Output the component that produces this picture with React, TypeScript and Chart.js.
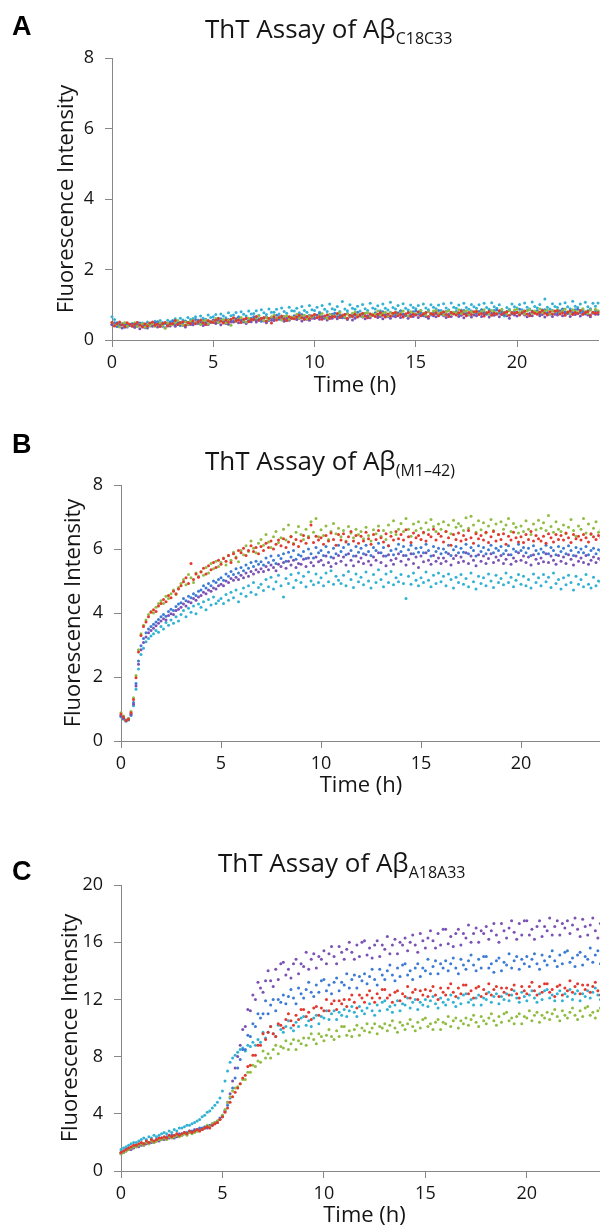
import React, { useEffect, useRef } from "react";
import { Chart, registerables } from "chart.js";

Chart.register(...registerables);

// ---------------- DATA ----------------
// Sampling times (h), one reading every 7.5 min
const TIME_H = [
  0, 0.125, 0.25, 0.375, 0.5, 0.625, 0.75, 0.875,
  1, 1.125, 1.25, 1.375, 1.5, 1.625, 1.75, 1.875,
  2, 2.125, 2.25, 2.375, 2.5, 2.625, 2.75, 2.875,
  3, 3.125, 3.25, 3.375, 3.5, 3.625, 3.75, 3.875,
  4, 4.125, 4.25, 4.375, 4.5, 4.625, 4.75, 4.875,
  5, 5.125, 5.25, 5.375, 5.5, 5.625, 5.75, 5.875,
  6, 6.125, 6.25, 6.375, 6.5, 6.625, 6.75, 6.875,
  7, 7.125, 7.25, 7.375, 7.5, 7.625, 7.75, 7.875,
  8, 8.125, 8.25, 8.375, 8.5, 8.625, 8.75, 8.875,
  9, 9.125, 9.25, 9.375, 9.5, 9.625, 9.75, 9.875,
  10, 10.125, 10.25, 10.375, 10.5, 10.625, 10.75, 10.875,
  11, 11.125, 11.25, 11.375, 11.5, 11.625, 11.75, 11.875,
  12, 12.125, 12.25, 12.375, 12.5, 12.625, 12.75, 12.875,
  13, 13.125, 13.25, 13.375, 13.5, 13.625, 13.75, 13.875,
  14, 14.125, 14.25, 14.375, 14.5, 14.625, 14.75, 14.875,
  15, 15.125, 15.25, 15.375, 15.5, 15.625, 15.75, 15.875,
  16, 16.125, 16.25, 16.375, 16.5, 16.625, 16.75, 16.875,
  17, 17.125, 17.25, 17.375, 17.5, 17.625, 17.75, 17.875,
  18, 18.125, 18.25, 18.375, 18.5, 18.625, 18.75, 18.875,
  19, 19.125, 19.25, 19.375, 19.5, 19.625, 19.75, 19.875,
  20, 20.125, 20.25, 20.375, 20.5, 20.625, 20.75, 20.875,
  21, 21.125, 21.25, 21.375, 21.5, 21.625, 21.75, 21.875,
  22, 22.125, 22.25, 22.375, 22.5, 22.625, 22.75, 22.875,
  23, 23.125, 23.25, 23.375, 23.5, 23.625, 23.75, 23.875,
  24,
];

const SERIES_NAMES = ["Replicate 1", "Replicate 2", "Replicate 3", "Replicate 4", "Replicate 5"];
const SERIES_COLORS = ["#e2382d", "#8fbd42", "#7b51b3", "#3b7bd4", "#31b2d4"];

const X_TICKS = [0, 5, 10, 15, 20];
const A_Y_TICKS = [0, 2, 4, 6, 8];
const B_Y_TICKS = [0, 2, 4, 6, 8];
const C_Y_TICKS = [0, 4, 8, 12, 16, 20];

const PANEL_LETTERS = ["A", "B", "C"];
const TITLE_MAIN = "ThT Assay of Aβ";
const TITLE_SUBS = ["C18C33", "(M1–42)", "A18A33"];
const X_TITLE = "Time (h)";
const Y_TITLE = "Fluorescence Intensity";

// ---- Panel A: Aβ C18C33 ----
const A_RED = [
  0.50,0.40,0.46,0.51,0.43,0.38,0.49,0.45,
  0.39,0.45,0.50,0.42,0.37,0.46,0.40,0.48,
  0.51,0.42,0.45,0.38,0.47,0.50,0.40,0.46,
  0.46,0.55,0.44,0.49,0.52,0.42,0.50,0.47,
  0.54,0.46,0.52,0.57,0.49,0.44,0.55,0.51,
  0.50,0.56,0.61,0.53,0.48,0.57,0.51,0.59,
  0.63,0.54,0.57,0.50,0.59,0.62,0.52,0.58,
  0.58,0.67,0.56,0.61,0.64,0.54,0.62,0.48,
  0.65,0.57,0.63,0.68,0.60,0.55,0.66,0.62,
  0.60,0.66,0.71,0.63,0.58,0.67,0.61,0.69,
  0.72,0.63,0.66,0.59,0.68,0.71,0.61,0.67,
  0.66,0.75,0.64,0.69,0.72,0.62,0.70,0.67,
  0.73,0.65,0.71,0.76,0.68,0.63,0.74,0.70,
  0.67,0.73,0.78,0.70,0.65,0.74,0.68,0.76,
  0.78,0.69,0.72,0.65,0.74,0.77,0.67,0.73,
  0.71,0.80,0.69,0.74,0.77,0.67,0.75,0.72,
  0.77,0.69,0.75,0.80,0.72,0.67,0.78,0.74,
  0.71,0.77,0.82,0.74,0.69,0.78,0.72,0.80,
  0.81,0.72,0.75,0.68,0.77,0.80,0.70,0.76,
  0.74,0.83,0.72,0.77,0.80,0.70,0.78,0.75,
  0.79,0.71,0.77,0.82,0.74,0.69,0.80,0.76,
  0.73,0.79,0.84,0.76,0.71,0.80,0.74,0.82,
  0.83,0.74,0.77,0.70,0.79,0.82,0.72,0.78,
  0.75,0.84,0.73,0.78,0.81,0.71,0.79,0.76,
  0.78,
];
const A_GREEN = [
  0.50,0.41,0.44,0.37,0.46,0.49,0.39,0.45,
  0.40,0.49,0.38,0.43,0.46,0.36,0.44,0.41,
  0.47,0.39,0.45,0.50,0.42,0.33,0.48,0.44,
  0.44,0.50,0.55,0.47,0.42,0.51,0.45,0.53,
  0.57,0.48,0.51,0.44,0.53,0.56,0.46,0.52,
  0.52,0.61,0.50,0.55,0.58,0.48,0.56,0.42,
  0.61,0.53,0.59,0.64,0.56,0.51,0.62,0.58,
  0.57,0.63,0.68,0.60,0.55,0.64,0.58,0.66,
  0.70,0.61,0.64,0.57,0.66,0.69,0.59,0.65,
  0.64,0.73,0.62,0.67,0.70,0.60,0.68,0.65,
  0.72,0.64,0.70,0.75,0.67,0.62,0.73,0.69,
  0.67,0.73,0.78,0.70,0.65,0.74,0.68,0.76,
  0.79,0.70,0.73,0.66,0.75,0.78,0.68,0.74,
  0.73,0.82,0.71,0.76,0.79,0.69,0.77,0.74,
  0.79,0.71,0.77,0.82,0.74,0.69,0.80,0.76,
  0.73,0.79,0.84,0.76,0.71,0.80,0.74,0.82,
  0.84,0.75,0.78,0.71,0.80,0.83,0.73,0.79,
  0.77,0.86,0.75,0.80,0.83,0.73,0.81,0.78,
  0.83,0.75,0.81,0.86,0.78,0.73,0.84,0.80,
  0.76,0.82,0.87,0.79,0.74,0.83,0.77,0.85,
  0.87,0.78,0.81,0.74,0.83,0.86,0.76,0.82,
  0.79,0.88,0.77,0.82,0.85,0.75,0.83,0.80,
  0.85,0.77,0.83,0.88,0.80,0.75,0.86,0.82,
  0.78,0.84,0.89,0.81,0.76,0.85,0.79,0.87,
  0.83,
];
const A_PURPLE = [
  0.43,0.42,0.47,0.39,0.34,0.43,0.37,0.45,
  0.45,0.36,0.39,0.32,0.41,0.44,0.34,0.40,
  0.39,0.48,0.37,0.42,0.45,0.35,0.43,0.40,
  0.47,0.39,0.45,0.50,0.42,0.37,0.48,0.44,
  0.43,0.49,0.54,0.46,0.41,0.50,0.44,0.52,
  0.56,0.47,0.50,0.43,0.52,0.55,0.45,0.51,
  0.51,0.60,0.49,0.54,0.57,0.47,0.55,0.52,
  0.59,0.51,0.57,0.62,0.54,0.49,0.60,0.56,
  0.55,0.61,0.66,0.58,0.53,0.62,0.56,0.64,
  0.67,0.58,0.61,0.54,0.63,0.66,0.56,0.62,
  0.61,0.70,0.59,0.64,0.67,0.57,0.65,0.62,
  0.68,0.60,0.66,0.71,0.63,0.58,0.69,0.57,
  0.62,0.68,0.73,0.65,0.60,0.69,0.63,0.71,
  0.73,0.64,0.67,0.60,0.69,0.72,0.62,0.68,
  0.66,0.75,0.64,0.69,0.72,0.62,0.70,0.67,
  0.72,0.64,0.70,0.75,0.67,0.62,0.73,0.69,
  0.66,0.72,0.77,0.69,0.64,0.73,0.67,0.75,
  0.76,0.67,0.70,0.63,0.72,0.75,0.65,0.71,
  0.69,0.78,0.67,0.72,0.75,0.65,0.73,0.70,
  0.74,0.66,0.72,0.77,0.69,0.62,0.75,0.71,
  0.68,0.74,0.79,0.71,0.66,0.75,0.69,0.77,
  0.78,0.69,0.72,0.65,0.74,0.77,0.67,0.73,
  0.71,0.80,0.69,0.74,0.77,0.67,0.75,0.72,
  0.76,0.68,0.74,0.79,0.71,0.66,0.77,0.73,
  0.73,
];
const A_BLUE = [
  0.45,0.49,0.38,0.43,0.46,0.36,0.44,0.41,
  0.45,0.37,0.43,0.48,0.40,0.35,0.46,0.42,
  0.41,0.47,0.52,0.44,0.39,0.48,0.42,0.50,
  0.54,0.45,0.48,0.41,0.50,0.53,0.43,0.49,
  0.49,0.58,0.47,0.52,0.55,0.45,0.53,0.50,
  0.57,0.49,0.55,0.60,0.52,0.47,0.58,0.54,
  0.53,0.59,0.64,0.56,0.51,0.60,0.54,0.62,
  0.66,0.57,0.60,0.53,0.62,0.65,0.55,0.61,
  0.61,0.70,0.59,0.64,0.67,0.57,0.65,0.62,
  0.69,0.61,0.67,0.72,0.64,0.59,0.70,0.66,
  0.64,0.70,0.75,0.67,0.62,0.71,0.65,0.73,
  0.76,0.67,0.70,0.63,0.72,0.75,0.65,0.71,
  0.70,0.79,0.68,0.73,0.76,0.66,0.74,0.71,
  0.77,0.69,0.75,0.80,0.72,0.67,0.78,0.74,
  0.71,0.77,0.82,0.74,0.69,0.78,0.72,0.80,
  0.82,0.73,0.76,0.69,0.78,0.81,0.71,0.77,
  0.75,0.84,0.73,0.78,0.81,0.71,0.79,0.76,
  0.81,0.73,0.79,0.84,0.76,0.71,0.82,0.78,
  0.75,0.81,0.86,0.78,0.73,0.82,0.76,0.84,
  0.85,0.76,0.79,0.72,0.81,0.84,0.74,0.80,
  0.78,0.87,0.76,0.81,0.84,0.74,0.82,0.79,
  0.83,0.75,0.81,0.86,0.78,0.73,0.84,0.80,
  0.77,0.83,0.88,0.80,0.75,0.84,0.78,0.86,
  0.87,0.78,0.81,0.74,0.83,0.86,0.76,0.82,
  0.81,
];
const A_CYAN = [
  0.66,0.58,0.50,0.46,0.43,0.48,0.45,0.42,
  0.47,0.44,0.50,0.45,0.48,0.43,0.51,0.46,
  0.49,0.53,0.47,0.55,0.50,0.46,0.56,0.52,
  0.55,0.60,0.52,0.62,0.57,0.54,0.64,0.58,
  0.61,0.66,0.57,0.68,0.62,0.59,0.71,0.64,
  0.66,0.72,0.62,0.74,0.68,0.63,0.77,0.69,
  0.71,0.78,0.66,0.80,0.73,0.68,0.82,0.74,
  0.75,0.83,0.70,0.86,0.77,0.72,0.88,0.79,
  0.79,0.87,0.74,0.91,0.81,0.76,0.93,0.83,
  0.82,0.90,0.77,0.95,0.84,0.79,0.98,0.86,
  0.84,0.93,0.79,0.98,0.87,0.81,1.02,0.89,
  0.86,0.95,0.81,1.09,0.88,0.83,1.00,0.90,
  0.87,0.96,0.82,1.01,0.89,0.84,1.04,0.91,
  0.88,0.97,0.83,1.02,0.90,0.85,1.07,0.92,
  0.88,0.98,0.83,1.03,0.90,0.85,0.99,0.92,
  0.89,0.98,0.84,1.02,0.91,0.86,1.00,0.93,
  0.89,0.99,0.84,1.03,0.91,0.86,1.05,0.93,
  0.90,0.99,0.85,1.04,0.92,0.87,1.01,0.94,
  0.90,1.00,0.85,1.04,0.92,0.87,1.06,0.94,
  0.90,1.00,0.85,0.68,0.92,0.87,1.02,0.94,
  0.91,1.01,0.86,1.05,0.93,0.88,1.08,0.95,
  0.91,1.01,0.86,1.16,0.93,0.88,1.03,0.95,
  0.92,1.02,0.87,1.06,0.94,0.89,1.10,0.96,
  0.92,1.02,0.87,1.07,0.94,0.89,1.04,0.96,
  1.05,
];

// ---- Panel B: Aβ(M1–42) ----
const B_RED = [
  0.84,0.75,0.64,0.68,0.88,1.30,1.98,2.78,
  3.30,3.58,3.72,3.88,4.02,4.10,4.05,4.22,
  4.30,4.42,4.35,4.55,4.48,4.68,4.60,4.75,
  4.85,4.98,5.10,4.92,5.55,5.05,5.22,5.12,
  5.28,5.40,5.22,5.48,5.35,5.58,5.42,5.65,
  5.52,5.70,5.62,5.80,5.58,5.85,5.72,5.95,
  5.88,6.02,5.80,5.95,6.10,5.92,6.05,5.85,
  6.08,5.95,6.18,6.05,6.25,6.00,6.15,6.28,
  6.10,6.32,6.05,6.22,6.38,6.15,6.30,6.08,
  6.25,6.42,6.18,6.35,6.75,6.20,6.40,6.28,
  6.35,6.15,6.42,6.25,6.50,6.30,6.12,6.45,
  6.28,6.48,6.22,6.38,6.55,6.25,6.42,6.18,
  6.40,6.25,6.52,6.32,6.15,6.45,6.30,6.58,
  6.35,6.22,6.48,6.10,6.40,6.28,6.55,6.32,
  6.45,6.28,6.60,6.38,6.20,6.50,6.35,6.42,
  6.30,6.52,6.25,6.45,6.38,6.62,6.28,6.48,
  6.40,6.22,6.55,6.35,6.12,6.45,6.30,6.50,
  6.25,6.42,6.30,6.58,6.35,6.18,6.48,6.32,
  6.42,6.28,6.52,6.20,6.38,6.55,6.25,6.45,
  6.30,6.48,6.15,6.40,6.28,6.52,6.35,6.22,
  6.38,6.20,6.45,6.30,6.55,6.25,6.42,6.32,
  6.25,6.40,6.18,6.48,6.35,6.22,6.45,6.30,
  6.42,6.28,6.50,6.35,6.20,6.45,6.32,6.40,
  6.28,6.45,6.35,6.22,6.48,6.38,6.30,6.42,
  6.35,
];
const B_GREEN = [
  0.88,0.78,0.66,0.70,0.92,1.35,2.05,2.85,
  3.35,3.62,3.78,3.95,4.05,4.00,4.18,4.30,
  4.38,4.30,4.52,4.45,4.60,4.72,4.58,4.80,
  4.92,5.05,4.88,5.20,5.10,4.95,5.25,5.15,
  5.30,5.18,5.42,5.25,5.55,5.38,5.62,5.45,
  5.58,5.72,5.50,5.80,5.65,5.90,5.75,5.60,
  5.95,5.82,6.10,5.92,6.25,6.02,5.88,6.18,
  6.30,6.12,6.45,6.22,6.05,6.38,6.55,6.20,
  6.35,6.62,6.28,6.75,6.40,6.18,6.52,6.70,
  6.45,6.30,6.62,6.40,6.85,6.52,6.95,6.38,
  6.60,6.42,6.72,6.30,6.55,6.80,6.48,6.65,
  6.38,6.58,6.25,6.70,6.50,6.35,6.62,6.45,
  6.55,6.32,6.68,6.42,6.25,6.60,6.48,6.72,
  6.40,6.58,6.30,6.75,6.52,6.88,6.45,6.62,
  6.80,6.55,6.95,6.62,6.40,6.78,6.58,6.85,
  6.65,6.50,6.82,6.60,6.92,6.70,6.55,6.78,
  6.62,6.85,6.55,6.75,6.48,6.90,6.68,6.80,
  6.72,6.58,6.98,6.65,7.02,6.75,6.52,6.88,
  6.60,6.82,6.50,6.72,6.92,6.58,6.78,6.45,
  6.85,6.62,6.75,6.95,6.55,6.80,6.68,6.50,
  6.72,6.55,6.88,6.62,6.45,6.78,6.60,6.90,
  6.65,6.82,6.58,7.05,6.70,6.52,6.85,6.62,
  6.55,6.75,6.48,6.68,6.92,6.58,6.40,6.72,
  6.62,6.95,6.50,6.78,6.45,6.65,6.85,6.52,
  6.60,
];
const B_PURPLE = [
  0.78,0.70,0.63,0.68,0.82,1.15,1.72,2.40,
  2.85,3.08,3.25,3.38,3.45,3.52,3.60,3.68,
  3.75,3.82,3.78,3.92,3.98,3.95,4.08,4.12,
  4.18,4.28,4.22,4.35,4.32,4.45,4.40,4.50,
  4.55,4.65,4.60,4.72,4.68,4.78,4.75,4.85,
  4.90,4.85,5.00,4.95,5.08,5.02,5.12,5.05,
  5.18,5.10,5.25,5.15,5.30,5.22,5.35,5.28,
  5.38,5.30,5.45,5.35,5.50,5.42,5.32,5.52,
  5.45,5.58,5.40,5.62,5.50,5.65,5.42,5.55,
  5.52,5.68,5.45,5.72,5.58,5.48,5.75,5.60,
  5.65,5.50,5.78,5.58,5.45,5.72,5.55,5.80,
  5.62,5.75,5.50,5.85,5.65,5.48,5.78,5.60,
  5.72,5.55,5.82,5.62,5.50,5.75,5.65,5.88,
  5.58,5.78,5.48,5.82,5.65,5.52,5.70,5.85,
  5.62,5.80,5.50,5.68,5.85,5.55,5.75,5.42,
  5.78,5.60,5.88,5.65,5.52,5.80,5.62,5.72,
  5.55,5.72,5.62,5.85,5.50,5.70,5.80,5.58,
  5.75,5.62,5.88,5.55,5.78,5.65,5.48,5.82,
  5.62,5.78,5.55,5.70,5.85,5.58,5.75,5.65,
  5.80,5.55,5.68,5.82,5.52,5.72,5.62,5.88,
  5.65,5.78,5.58,5.75,5.50,5.82,5.68,5.55,
  5.72,5.60,5.85,5.58,5.78,5.65,5.52,5.80,
  5.62,5.75,5.55,5.82,5.68,5.50,5.78,5.62,
  5.72,5.58,5.80,5.52,5.65,5.75,5.58,5.70,
  5.65,
];
const B_BLUE = [
  0.80,0.72,0.66,0.70,0.85,1.20,1.80,2.50,
  2.98,3.20,3.38,3.50,3.58,3.65,3.72,3.80,
  3.88,3.95,3.90,4.05,4.12,4.08,4.20,4.28,
  4.32,4.45,4.38,4.52,4.48,4.60,4.55,4.68,
  4.72,4.85,4.78,4.92,4.85,5.00,4.95,5.05,
  5.10,5.02,5.22,5.15,5.30,5.20,5.38,5.25,
  5.42,5.32,5.50,5.40,5.58,5.45,5.62,5.52,
  5.60,5.50,5.72,5.58,5.78,5.65,5.55,5.80,
  5.70,5.85,5.62,5.90,5.75,5.95,5.68,5.82,
  5.78,5.92,5.70,6.00,5.85,5.72,6.05,5.88,
  5.95,5.80,6.08,5.90,5.75,6.02,5.85,6.12,
  5.92,6.05,5.82,6.15,5.95,5.78,6.08,5.90,
  6.02,5.85,6.12,5.92,5.80,6.05,5.95,6.18,
  5.88,6.05,5.78,6.10,5.95,5.82,6.00,6.15,
  5.92,6.08,5.80,5.98,6.12,5.85,6.02,5.90,
  6.05,5.88,6.15,5.95,5.78,6.08,5.92,6.02,
  5.85,6.00,5.90,6.12,5.80,5.98,6.08,5.88,
  6.02,5.90,6.15,5.85,6.05,5.95,5.78,6.10,
  5.92,6.05,5.85,5.98,6.12,5.88,6.02,5.95,
  6.08,5.85,5.95,6.10,5.82,6.00,5.92,6.15,
  5.95,6.05,5.88,6.02,5.80,6.10,5.95,5.85,
  6.00,5.90,6.12,5.85,6.05,5.95,5.82,6.08,
  5.92,6.02,5.85,6.10,5.95,5.80,6.05,5.90,
  6.00,5.88,6.08,5.82,5.95,6.02,5.85,5.98,
  5.92,
];
const B_CYAN = [
  0.76,0.68,0.62,0.66,0.80,1.10,1.62,2.25,
  2.70,2.90,3.10,3.20,3.28,3.35,3.45,3.40,
  3.58,3.50,3.70,3.62,3.78,3.68,3.88,3.75,
  3.95,4.08,3.88,4.15,4.02,4.22,3.98,4.28,
  4.18,4.35,4.10,4.42,4.25,4.50,4.30,4.38,
  4.45,4.30,4.58,4.40,4.65,4.48,4.72,4.35,
  4.60,4.78,4.52,4.85,4.65,4.95,4.58,4.80,
  4.90,4.70,5.05,4.82,5.12,4.75,4.98,5.18,
  4.85,4.50,5.08,4.92,5.20,4.80,5.02,5.25,
  4.95,5.15,4.82,5.28,5.00,4.88,5.22,4.95,
  5.10,4.85,5.25,4.98,5.32,4.90,5.15,5.02,
  4.92,5.18,4.85,5.30,5.05,4.80,5.22,4.98,
  5.12,4.88,5.28,5.00,4.78,5.20,4.95,5.35,
  5.05,4.82,5.22,4.95,5.30,4.88,5.10,4.98,
  5.20,4.92,4.45,5.15,4.90,5.25,5.02,4.85,
  5.10,4.95,5.28,5.02,4.82,5.18,4.92,5.25,
  4.98,5.15,4.85,5.22,5.05,4.78,5.12,4.95,
  5.20,4.90,5.08,4.82,5.25,4.98,4.75,5.15,
  4.92,5.10,4.85,5.22,5.00,4.80,5.18,4.95,
  5.08,4.88,5.25,4.95,5.12,4.82,5.02,5.20,
  4.90,5.15,4.85,5.05,4.78,5.22,4.95,5.10,
  4.85,5.20,4.98,5.12,4.80,5.25,4.92,5.05,
  4.75,5.10,4.88,5.18,4.95,4.72,5.15,4.90,
  5.05,4.82,5.20,4.90,4.78,5.12,4.85,5.00,
  4.95,
];

// ---- Panel C: Aβ A18A33 ----
const C_RED = [
  1.3,1.4,1.5,1.6,1.7,1.8,1.8,1.9,
  2.0,1.9,2.1,2.0,2.2,2.1,2.2,2.3,
  2.3,2.4,2.3,2.5,2.4,2.5,2.6,2.5,
  2.6,2.7,2.6,2.8,2.7,2.8,2.9,2.8,
  2.9,3.0,3.1,3.0,3.2,3.3,3.4,3.6,
  3.8,4.1,4.4,4.8,5.2,5.5,5.8,6.1,
  6.5,6.7,7.3,7.4,8.1,8.1,8.8,8.8,
  9.6,9.2,9.7,10.1,9.6,9.4,10.3,10.2,
  10.0,10.6,11.0,10.5,10.2,10.9,10.6,11.3,
  11.3,10.8,11.1,10.6,11.4,11.5,10.9,11.4,
  11.2,12.0,11.2,11.7,11.9,11.3,11.9,11.7,
  12.0,11.5,12.0,12.3,11.8,11.4,12.3,12.1,
  11.8,12.3,12.6,12.1,11.8,12.4,12.1,12.7,
  12.7,12.1,12.3,11.8,12.5,12.6,11.9,12.4,
  12.2,12.9,12.1,12.5,12.7,12.0,12.6,12.3,
  12.7,12.2,12.6,12.9,12.3,12.0,12.8,12.5,
  12.3,12.8,13.1,12.5,12.2,12.8,12.4,13.0,
  13.0,12.4,12.6,12.1,12.8,12.9,12.2,12.7,
  12.4,13.1,12.3,12.7,12.9,12.2,12.8,12.5,
  12.8,12.3,12.7,13.0,12.4,12.1,12.9,12.6,
  12.4,12.9,13.2,12.6,12.3,12.9,12.5,13.1,
  13.1,12.5,12.7,12.2,12.9,13.0,12.3,12.8,
  12.6,13.3,12.5,12.9,13.1,12.4,13.0,12.7,
  13.0,12.5,12.9,13.2,12.6,12.3,13.1,12.8,
  12.8,
];
const C_GREEN = [
  1.2,1.3,1.4,1.5,1.6,1.7,1.7,1.8,
  1.9,1.8,2.0,1.9,2.1,2.0,2.1,2.2,
  2.2,2.3,2.2,2.4,2.3,2.4,2.5,2.4,
  2.5,2.6,2.5,2.7,2.6,2.7,2.8,2.8,
  2.9,3.0,3.2,3.1,3.3,3.4,3.5,3.6,
  3.9,4.3,4.8,5.2,5.6,5.8,5.9,6.1,
  6.4,6.4,6.9,6.9,7.4,7.3,7.7,7.6,
  8.4,7.9,8.2,7.9,8.5,8.8,8.2,8.7,
  8.6,9.1,8.5,8.9,9.2,8.5,9.1,8.9,
  9.3,8.8,9.3,9.6,9.2,8.9,9.6,9.4,
  9.1,9.5,9.9,9.4,9.2,9.8,9.4,10.1,
  10.1,9.5,9.8,9.4,9.9,10.2,9.5,10.0,
  9.8,10.3,9.7,10.0,10.3,9.6,10.1,10.0,
  10.3,9.8,10.2,10.5,10.0,9.7,10.4,10.2,
  9.9,10.3,10.6,10.1,9.8,10.4,10.0,10.6,
  10.7,10.1,10.3,9.9,10.4,10.6,9.9,10.4,
  10.3,10.8,10.1,10.5,10.7,10.0,10.5,10.3,
  10.7,10.2,10.6,10.9,10.4,10.1,10.8,10.5,
  10.3,10.7,11.0,10.5,10.2,10.8,10.4,11.0,
  11.1,10.5,10.7,10.3,10.8,11.0,10.3,10.8,
  10.7,11.2,10.5,10.9,11.1,10.4,10.9,10.7,
  11.1,10.6,11.0,11.3,10.8,10.5,11.2,10.9,
  10.7,11.1,11.4,10.9,10.6,11.2,10.8,11.4,
  11.5,10.9,11.1,10.7,11.2,11.4,10.7,11.2,
  11.2,
];
const C_PURPLE = [
  1.2,1.3,1.4,1.5,1.5,1.6,1.7,1.7,
  1.8,1.8,1.9,1.9,2.0,2.0,2.1,2.1,
  2.2,2.2,2.3,2.3,2.4,2.3,2.4,2.5,
  2.5,2.6,2.6,2.7,2.7,2.8,2.8,2.9,
  2.9,3.0,3.0,3.1,3.2,3.3,3.4,3.6,
  3.8,4.2,4.8,5.4,6.3,7.2,8.0,8.8,
  9.9,10.1,11.3,11.2,12.3,12.0,13.2,12.8,
  12.5,13.3,14.0,13.3,12.9,14.1,13.4,14.5,
  14.6,13.7,14.1,13.5,14.5,14.8,13.8,14.5,
  14.3,15.3,14.1,14.8,15.2,14.2,15.0,14.8,
  15.4,14.5,15.2,15.7,15.0,14.5,15.7,15.3,
  14.8,15.5,16.0,15.3,14.8,15.8,15.0,16.0,
  16.1,15.1,15.6,14.9,15.8,16.1,15.0,15.8,
  15.5,16.4,15.2,15.8,16.2,15.2,16.0,15.8,
  16.3,15.4,16.0,16.5,15.8,15.3,16.6,16.1,
  15.6,16.3,16.8,16.1,15.6,16.6,15.8,16.9,
  16.9,15.9,16.4,15.7,16.6,16.9,15.8,16.6,
  16.3,17.2,16.0,16.6,17.0,16.0,16.8,16.6,
  17.1,16.2,16.8,17.3,16.5,16.0,17.3,16.8,
  16.3,17.0,17.5,16.7,16.2,17.3,16.5,17.5,
  17.5,16.5,16.9,16.2,17.1,17.5,16.4,17.1,
  16.8,17.7,16.5,17.1,17.5,16.5,17.3,17.0,
  17.5,16.6,17.2,17.7,16.9,16.4,17.6,17.1,
  16.5,17.2,17.7,16.8,16.3,17.3,16.4,17.3,
  16.8,
];
const C_BLUE = [
  1.3,1.4,1.5,1.6,1.6,1.7,1.8,1.8,
  1.9,1.9,2.0,2.0,2.1,2.1,2.2,2.2,
  2.3,2.3,2.4,2.4,2.5,2.4,2.5,2.6,
  2.6,2.7,2.7,2.8,2.8,2.9,2.9,3.0,
  3.0,3.1,3.1,3.2,3.3,3.4,3.5,3.7,
  3.9,4.2,4.6,5.1,5.8,6.5,7.2,7.8,
  8.5,8.5,9.5,9.4,10.3,10.1,11.0,10.7,
  11.0,11.9,11.0,11.6,12.0,11.2,12.0,11.8,
  12.3,11.7,12.2,12.7,12.1,11.7,12.8,12.4,
  12.1,12.7,13.2,12.5,12.2,13.0,12.5,13.3,
  13.4,12.6,13.0,12.4,13.2,13.5,12.6,13.2,
  13.0,13.8,12.8,13.4,13.7,12.8,13.6,13.3,
  13.8,13.1,13.6,14.1,13.4,13.0,14.1,13.7,
  13.4,14.0,14.4,13.7,13.3,14.2,13.6,14.4,
  14.5,13.7,14.0,13.4,14.2,14.5,13.6,14.2,
  14.0,14.8,13.8,14.3,14.7,13.8,14.5,14.2,
  14.7,14.0,14.5,14.9,14.2,13.8,14.8,14.4,
  14.1,14.7,15.1,14.4,14.0,14.8,14.2,15.0,
  15.0,14.2,14.5,13.9,14.7,14.9,14.0,14.6,
  14.4,15.2,14.2,14.7,15.0,14.1,14.8,14.5,
  15.0,14.3,14.8,15.2,14.5,14.1,15.1,14.7,
  14.4,15.0,15.4,14.7,14.3,15.1,14.5,15.3,
  15.4,14.6,14.9,14.3,15.1,15.3,14.4,15.0,
  14.8,15.6,14.6,15.1,15.4,14.5,15.2,14.9,
  15.0,
];
const C_CYAN = [
  1.5,1.6,1.7,1.8,1.9,2.0,2.0,2.1,
  2.2,2.3,2.2,2.4,2.3,2.5,2.4,2.5,
  2.6,2.7,2.6,2.8,2.7,2.9,2.8,3.0,
  3.0,3.1,3.2,3.2,3.3,3.4,3.5,3.6,
  3.8,3.9,4.1,4.2,4.4,4.6,4.8,5.1,
  5.6,6.3,7.0,7.6,7.9,8.1,8.3,8.5,
  8.6,8.4,8.8,8.7,9.0,8.8,9.2,9.0,
  9.7,9.3,9.7,10.1,9.6,9.4,10.2,9.9,
  9.7,10.1,10.5,10.0,9.8,10.4,10.1,10.7,
  10.8,10.2,10.5,10.1,10.7,10.9,10.3,10.8,
  10.7,11.2,10.6,11.0,11.2,10.6,11.1,10.9,
  11.3,10.8,11.2,11.5,11.1,10.8,11.5,11.2,
  11.0,11.4,11.7,11.2,10.9,11.6,11.2,11.8,
  11.9,11.3,11.5,11.1,11.6,11.9,11.2,11.7,
  11.6,12.1,11.4,11.8,12.0,11.3,11.8,11.6,
  12.0,11.5,11.9,12.2,11.7,11.4,12.1,11.8,
  11.6,12.0,12.3,11.8,11.5,12.1,11.7,12.3,
  12.4,11.8,12.0,11.6,12.1,12.3,11.6,12.1,
  12.0,12.5,11.8,12.2,12.4,11.7,12.2,12.0,
  12.4,11.9,12.3,12.6,12.1,11.8,12.5,12.2,
  11.9,12.3,12.6,12.1,11.8,12.4,12.0,12.6,
  12.7,12.1,12.3,11.9,12.4,12.6,11.9,12.4,
  12.2,12.7,12.0,12.4,12.6,11.9,12.4,12.2,
  12.6,12.1,12.5,12.8,12.3,12.0,12.7,12.4,
  12.4,
];

// ---------------- LAYOUT (positions / styles) ----------------
const FONT = "'Open Sans', 'Noto Sans', sans-serif";
const AXIS_COLOR = "#878787";
const TEXT_COLOR = "#151515";
const CANVAS_W = 620;

type PanelLayout = {
  top: number; height: number; left: number; right: number;
  plotTop: number; plotBottom: number; yMax: number;
  yTitlePad: number; titleX: number; titleY: number; letterY: number;
};

const PANEL_LAYOUTS: PanelLayout[] = [
  { top: 0, height: 400, left: 112, right: 598, plotTop: 58, plotBottom: 340, yMax: 8, yTitlePad: 54, titleX: 205, titleY: 38, letterY: 35 },
  { top: 400, height: 400, left: 121, right: 601, plotTop: 85, plotBottom: 341, yMax: 8, yTitlePad: 61, titleX: 205, titleY: 70, letterY: 53 },
  { top: 800, height: 430, left: 121, right: 608, plotTop: 85, plotBottom: 371, yMax: 20, yTitlePad: 58, titleX: 218, titleY: 72, letterY: 80 },
];

const PANEL_SERIES = [
  [A_RED, A_GREEN, A_PURPLE, A_BLUE, A_CYAN],
  [B_RED, B_GREEN, B_PURPLE, B_BLUE, B_CYAN],
  [C_RED, C_GREEN, C_PURPLE, C_BLUE, C_CYAN],
];
const PANEL_Y_TICKS = [A_Y_TICKS, B_Y_TICKS, C_Y_TICKS];

const decorPlugin = {
  id: "decor",
  afterDraw(chart: any, _args: any, opts: any) {
    const ctx = chart.ctx;
    ctx.save();
    ctx.fillStyle = "#000";
    ctx.textBaseline = "alphabetic";
    ctx.textAlign = "left";
    ctx.font = "bold 27px 'Liberation Sans', Arial, sans-serif";
    ctx.fillText(opts.letter, 12, opts.letterY);
    ctx.fillStyle = TEXT_COLOR;
    ctx.font = `26px ${FONT}`;
    ctx.fillText(opts.title, opts.titleX, opts.titleY);
    const w = ctx.measureText(opts.title).width;
    ctx.font = `16px ${FONT}`;
    ctx.fillText(opts.sub, opts.titleX + w, opts.titleY + 6);
    ctx.restore();
  },
};

function buildChart(canvas: HTMLCanvasElement, idx: number) {
  const L = PANEL_LAYOUTS[idx];
  const yTicks = PANEL_Y_TICKS[idx];
  const datasets = PANEL_SERIES[idx].map((vals, i) => ({
    label: SERIES_NAMES[i],
    data: vals.map((v, j) => ({ x: TIME_H[j], y: v })),
    backgroundColor: SERIES_COLORS[i],
    borderColor: SERIES_COLORS[i],
    borderWidth: 0,
    pointRadius: 1.5,
    pointHoverRadius: 1.5,
    showLine: false,
    clip: false as any,
  }));
  return new Chart(canvas, {
    type: "scatter",
    data: { datasets },
    plugins: [decorPlugin],
    options: {
      animation: false,
      responsive: false,
      events: [],
      layout: { padding: { top: L.plotTop, right: CANVAS_W - L.right, bottom: 0, left: 0 } },
      plugins: {
        legend: { display: false },
        tooltip: { enabled: false },
        title: { display: false },
        decor: {
          letter: PANEL_LETTERS[idx],
          letterY: L.letterY,
          title: TITLE_MAIN,
          sub: TITLE_SUBS[idx],
          titleX: L.titleX,
          titleY: L.titleY,
        },
      } as any,
      scales: {
        x: {
          type: "linear",
          min: 0,
          max: 24,
          afterFit: (s: any) => { s.height = L.height - L.plotBottom; },
          afterBuildTicks: (s: any) => { s.ticks = X_TICKS.map((v) => ({ value: v })); },
          ticks: { color: TEXT_COLOR, font: { family: FONT, size: 18 }, padding: 5, maxRotation: 0 },
          grid: { display: true, drawOnChartArea: false, drawTicks: true, tickLength: 7, color: AXIS_COLOR, lineWidth: 1 },
          border: { display: true, color: AXIS_COLOR, width: 1 },
          title: { display: true, text: X_TITLE, color: TEXT_COLOR, font: { family: FONT, size: 22 }, padding: { top: 0, bottom: 1 } },
        },
        y: {
          type: "linear",
          min: 0,
          max: L.yMax,
          afterFit: (s: any) => { s.width = L.left; },
          afterBuildTicks: (s: any) => { s.ticks = yTicks.map((v) => ({ value: v })); },
          ticks: { color: TEXT_COLOR, font: { family: FONT, size: 18 }, padding: 11 },
          grid: { display: true, drawOnChartArea: false, drawTicks: true, tickLength: 7, color: AXIS_COLOR, lineWidth: 1 },
          border: { display: true, color: AXIS_COLOR, width: 1 },
          title: { display: true, text: Y_TITLE, color: TEXT_COLOR, font: { family: FONT, size: 22 }, padding: { top: L.yTitlePad, bottom: 0 } },
        },
      },
    } as any,
  });
}

function Panel({ idx }: { idx: number }) {
  const ref = useRef<HTMLCanvasElement | null>(null);
  const L = PANEL_LAYOUTS[idx];
  useEffect(() => {
    if (!ref.current) return;
    const chart = buildChart(ref.current, idx);
    return () => chart.destroy();
  }, [idx]);
  return (
    <canvas
      ref={ref}
      width={CANVAS_W}
      height={L.height}
      style={{ position: "absolute", left: 0, top: L.top, width: CANVAS_W, height: L.height }}
    />
  );
}

export default function App() {
  return (
    <div style={{ position: "absolute", left: 0, top: 0, width: 600, height: 1230, overflow: "hidden", background: "#fff" }}>
      {PANEL_LAYOUTS.map((_, i) => (
        <Panel key={i} idx={i} />
      ))}
    </div>
  );
}
